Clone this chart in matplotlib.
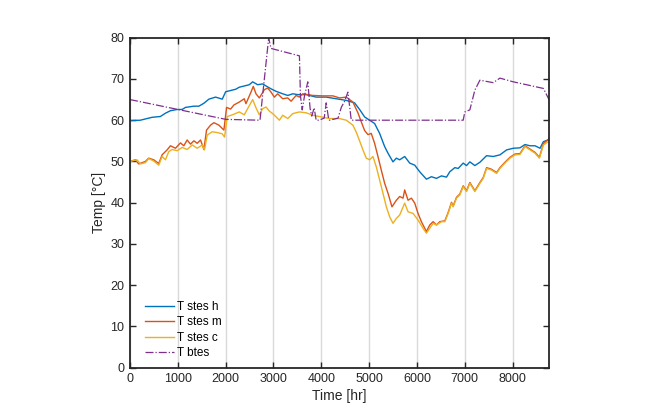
import matplotlib
matplotlib.use("Agg")
import matplotlib.pyplot as plt
import numpy as np

plt.rcParams['font.family'] = ['Liberation Sans', 'DejaVu Sans']

# ---- data ----
t_h = [0, 7, 217, 356, 461, 636, 741, 846, 986, 1090, 1160, 1335, 1440, 1544, 1649, 1789, 1929,
       2000, 2104, 2209, 2285, 2494, 2564, 2669, 2774, 2844, 2949, 3054, 3193, 3298, 3403, 3507,
       3682, 3892, 4102, 4311, 4521, 4695, 4800, 4905, 5009, 5114, 5219, 5324, 5394, 5498, 5569,
       5638, 5743, 5848, 5953, 6057, 6197, 6302, 6407, 6512, 6617, 6686, 6791, 6861, 6966, 7036,
       7105, 7210, 7315, 7455, 7594, 7734, 7874, 8014, 8153, 8258, 8363, 8468, 8573, 8643, 8760]
T_h = [60, 59.9, 60, 60.4, 60.7, 60.9, 61.7, 62.3, 62.6, 62.6, 63.1, 63.4, 63.4, 64.1, 65.1, 65.6, 65.1,
       66.9, 67.2, 67.5, 68.0, 68.6, 69.3, 68.6, 68.8, 68.3, 67.6, 67.0, 66.4, 66.0, 66.4, 66.2,
       66.2, 65.6, 65.6, 65.2, 64.8, 64.2, 62.6, 60.8, 60.0, 59.2, 56.8, 53.6, 52.0, 49.9, 50.8,
       50.4, 51.2, 49.6, 49.1, 47.5, 45.7, 46.3, 45.9, 46.5, 46.2, 47.5, 48.5, 48.3, 49.6, 49.0,
       49.9, 49.0, 49.8, 51.4, 51.2, 51.6, 52.8, 53.2, 53.3, 54.1, 53.8, 53.8, 53.2, 54.8, 55.3]

t_m = [0, 111, 182, 321, 391, 496, 601, 671, 776, 846, 951, 1055, 1125, 1195, 1265, 1335, 1405,
       1475, 1545, 1600, 1684, 1754, 1859, 1963, 2019, 2103, 2173, 2285, 2389, 2424, 2529, 2578,
       2634, 2704, 2809, 2878, 2949, 3018, 3088, 3193, 3298, 3368, 3473, 3542, 3612, 3822, 4031,
       4241, 4381, 4521, 4660, 4765, 4835, 4905, 4975, 5044, 5114, 5184, 5254, 5324, 5394, 5477,
       5569, 5638, 5708, 5743, 5813, 5883, 5953, 6022, 6092, 6197, 6267, 6337, 6407, 6477,
       6582, 6651, 6722, 6756, 6826, 6896, 6966, 7036, 7105, 7210, 7315, 7385, 7455, 7560,
       7665, 7734, 7839, 7944, 8049, 8153, 8258, 8363, 8468, 8559, 8643, 8760]
T_m = [50, 50.4, 49.4, 50.0, 50.8, 50.4, 49.5, 51.6, 52.8, 53.8, 53.2, 54.5, 53.8, 55.2, 54.2, 55.0, 54.4,
       55.2, 52.9, 57.6, 58.8, 59.4, 58.8, 57.6, 63.1, 62.7, 63.7, 64.4, 65.2, 64.0, 66.8, 68.2,
       66.4, 65.4, 67.4, 67.8, 66.8, 65.6, 66.4, 65.2, 65.4, 64.6, 66.0, 65.6, 66.4, 66.0, 65.9,
       65.9, 65.4, 65.6, 64.4, 61.8, 59.6, 57.5, 56.5, 56.8, 54.4, 51.2, 47.9, 44.7, 42.3, 39.0,
       40.6, 41.5, 41.1, 43.1, 40.6, 41.1, 39.9, 37.4, 35.4, 33.0, 34.6, 35.4, 34.6, 35.4,
       35.6, 37.6, 40.1, 39.2, 41.3, 42.1, 44.1, 42.9, 44.9, 42.9, 44.9, 46.1, 48.5, 48.1,
       47.3, 48.5, 49.8, 51.0, 51.8, 51.9, 53.8, 53.0, 52.2, 51.0, 54.3, 55.5]

t_c = [0, 147, 217, 321, 391, 496, 601, 671, 741, 811, 880, 986, 1090, 1195, 1300, 1405, 1509,
       1558, 1614, 1719, 1824, 1928, 1977, 2033, 2138, 2243, 2285, 2389, 2459, 2565, 2634, 2704,
       2774, 2844, 2914, 2983, 3054, 3123, 3193, 3298, 3403, 3542, 3682, 3822, 3997, 4171, 4381,
       4521, 4660, 4730, 4800, 4870, 4940, 5009, 5079, 5149, 5219, 5289, 5359, 5428, 5498, 5569,
       5638, 5743, 5813, 5918, 6022, 6127, 6197, 6267, 6337, 6407, 6512, 6582, 6651, 6722, 6756,
       6826, 6896, 6966, 7036, 7105, 7210, 7315, 7385, 7455, 7560, 7665, 7734, 7839, 7944, 8049,
       8153, 8258, 8363, 8468, 8559, 8643, 8760]
T_c = [50, 50.4, 49.4, 49.7, 50.7, 50.1, 49.1, 51.2, 50.4, 52.4, 52.9, 52.6, 53.4, 52.9, 54.0, 53.2, 54.0,
       52.8, 56.4, 57.2, 57.0, 56.7, 55.9, 60.9, 61.3, 61.8, 62.0, 61.3, 62.8, 65.0, 63.0, 61.3,
       62.8, 63.2, 62.2, 61.6, 60.8, 60.0, 61.2, 60.4, 61.6, 62.0, 61.8, 61.2, 60.8, 60.4, 60.4,
       60.0, 58.8, 57.1, 55.0, 52.8, 50.8, 50.4, 51.2, 48.7, 45.5, 42.3, 39.0, 36.6, 35.0, 36.2,
       37.0, 39.9, 37.8, 37.4, 35.8, 33.8, 32.6, 33.8, 35.0, 34.6, 35.4, 35.4, 37.4, 39.9, 39.0,
       41.1, 41.9, 43.9, 42.7, 44.7, 42.7, 44.7, 45.9, 48.3, 47.9, 47.1, 48.3, 49.6, 50.8, 51.6,
       51.7, 53.6, 52.8, 52.0, 50.8, 54.0, 54.9]

t_b = [0, 2005, 2718, 2899, 2949, 3542, 3563, 3600, 3650, 3717, 3766, 3800, 3850, 3892, 3950,
       4060, 4102, 4150, 4171, 4350, 4420, 4480, 4556, 4626, 6966, 7000, 7105, 7210, 7315, 7594,
       7734, 8014, 8643, 8747, 8760]
T_b = [65, 60.2, 60.0, 79.9, 77.4, 75.6, 66.0, 62.5, 66.0, 69.3, 62.8, 61.0, 63.0, 60.0, 60.0,
       60.5, 64.2, 60.5, 60.0, 60.5, 63.2, 64.4, 66.8, 60.0, 60.0, 62.0, 62.5, 67.3, 69.7, 69.1,
       70.2, 69.3, 67.7, 65.3, 65.0]

labels = ['T stes h', 'T stes m', 'T stes c', 'T btes']
colors = ['#0072BD', '#D95319', '#EDB120', '#7E2F8E']

fig = plt.figure(figsize=(6.55, 4.17), dpi=100)
ax = fig.add_axes([130/655, 49.3/417, 419/655, 330/417])

ax.plot(t_h, T_h, color=colors[0], lw=1.0, label=labels[0])
ax.plot(t_m, T_m, color=colors[1], lw=1.0, label=labels[1])
ax.plot(t_c, T_c, color=colors[2], lw=1.0, label=labels[2])
ax.plot(t_b, T_b, color=colors[3], lw=0.9, ls='-.', label=labels[3])

ax.set_xlim(0, 8760)
ax.set_ylim(0, 80)
ax.set_xticks(np.arange(0, 9000, 1000))
ax.set_yticks(np.arange(0, 90, 10))
ax.grid(axis='x', color='#d9d9d9', lw=1.0)
ax.set_axisbelow(True)

ax.tick_params(direction='in', length=4, width=1, top=True, right=True,
               labelsize=9, colors='#262626', pad=4)
for s in ax.spines.values():
    s.set_linewidth(1.3)
    s.set_color('#262626')

ax.set_xlabel('Time [hr]', fontsize=10, color='#262626', labelpad=3)
ax.set_ylabel('Temp [°C]', fontsize=10, color='#262626', labelpad=3)

leg = ax.legend(loc='lower left', bbox_to_anchor=(0.015, 0.0), frameon=False,
                fontsize=8.5, handlelength=2.5, handletextpad=0.25, labelspacing=0.3,
                borderaxespad=0.3)

fig.savefig('out.png', dpi=100)
